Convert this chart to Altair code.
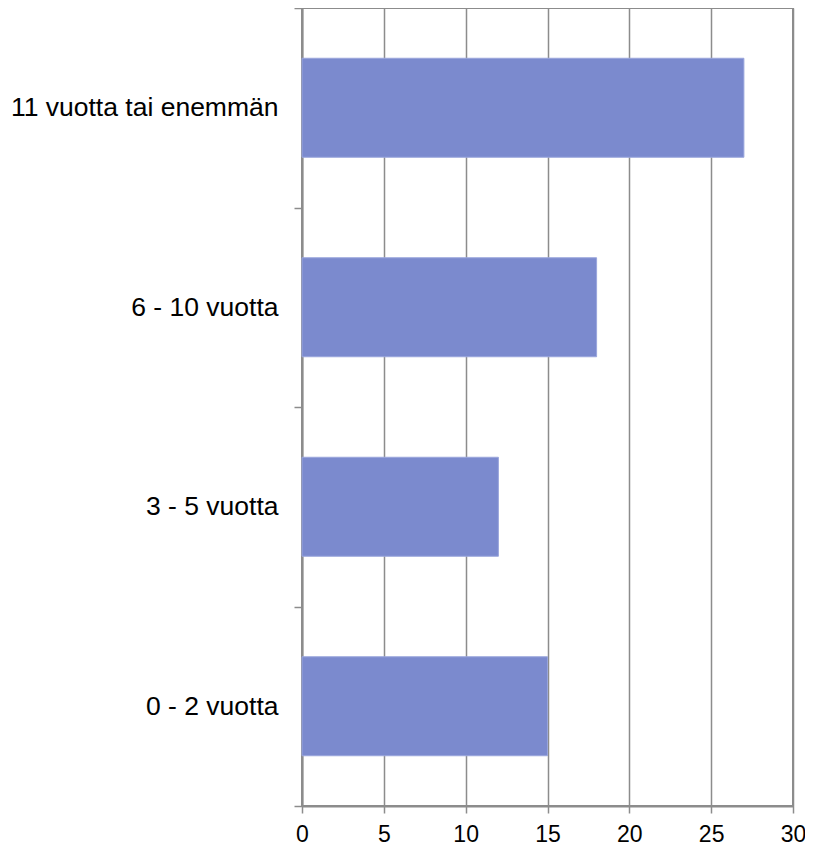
import altair as alt
import pandas as pd

categories = ["11 vuotta tai enemmän", "6 - 10 vuotta", "3 - 5 vuotta", "0 - 2 vuotta"]
values = [27, 18, 12, 15]
x_ticks = [0, 5, 10, 15, 20, 25, 30]

df = pd.DataFrame({"cat": categories, "val": values})

grey = "#8c8c8c"

chart = alt.Chart(df).mark_bar(color="#7b8ace", stroke="#9aa6dc", strokeWidth=1, size=99).encode(
    x=alt.X("val:Q", scale=alt.Scale(domain=[0, 30], nice=False, zero=True),
            axis=alt.Axis(values=x_ticks, title=None, grid=True, gridColor=grey, gridWidth=1.5,
                          domainColor=grey, domainWidth=2, tickColor=grey, tickWidth=1.5, tickSize=7,
                          labelFont="Liberation Sans", labelFontSize=23, labelColor="#000000",
                          labelPadding=10, labelFlush=False)),
    y=alt.Y("cat:N", sort=categories, scale=alt.Scale(paddingInner=0, paddingOuter=0),
            axis=alt.Axis(title=None, grid=False, tickBand="extent", domainColor=grey, domainWidth=2,
                          tickColor=grey, tickWidth=1.5, tickSize=8,
                          labelFont="Liberation Sans", labelFontSize=26.5, labelColor="#000000",
                          labelPadding=16, labelLimit=400)),
).properties(
    width=491, height=798,
    autosize=alt.AutoSizeParams(type="none"),
    padding={"left": 294, "top": 0, "right": 12, "bottom": 44},
).configure_view(stroke=grey, strokeWidth=2)

chart.save("out.html", embed_options={"renderer": "svg", "actions": False})
